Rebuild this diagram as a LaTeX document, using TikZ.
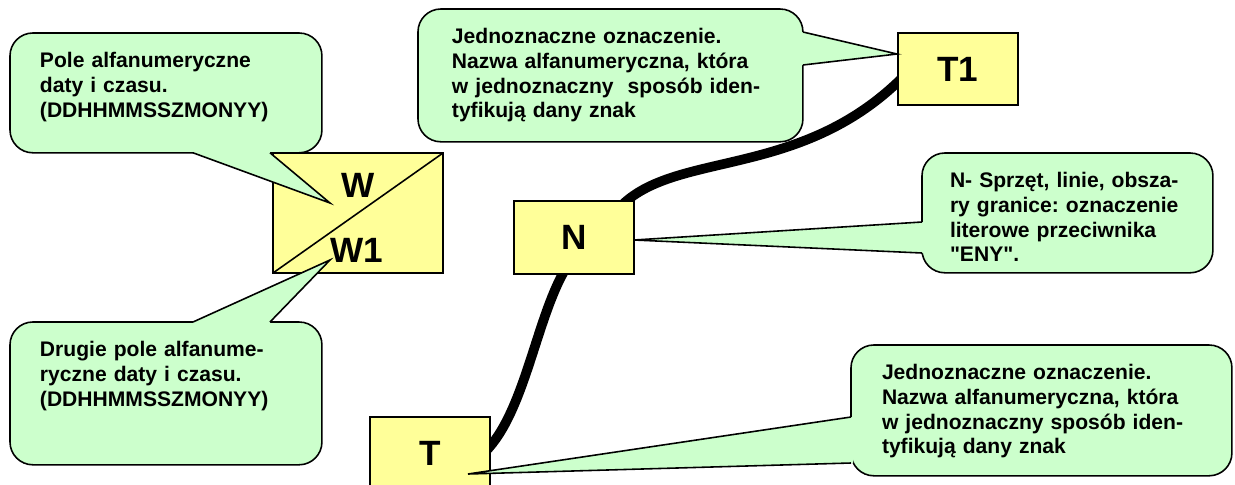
\documentclass[tikz,border=0pt]{standalone}
\usepackage{fontspec}
\setmainfont{Liberation Sans}
\pgfdeclarelayer{background}
\pgfsetlayers{background,main}
\definecolor{bubblegreen}{RGB}{204,255,204}
\definecolor{signyellow}{RGB}{255,255,153}
\tikzset{
  bubble/.style={draw,fill=bubblegreen,line width=0.9pt,rounded corners=13pt,anchor=north west,
    align=left,inner ysep=0.38cm,text height=9pt,outer sep=0pt,
    font=\bfseries\fontsize{12}{14}\selectfont\frenchspacing},
  wedge/.style={fill=bubblegreen},
  wedgeline/.style={line width=0.9pt},
  sign/.style={draw,fill=signyellow,line width=0.9pt,minimum width=2.4cm,minimum height=1.46cm,
    inner sep=0pt,outer sep=0pt,font=\bfseries\fontsize{20}{24}\selectfont},
  signlabel/.style={inner sep=0pt,font=\bfseries\fontsize{20}{24}\selectfont},
  track/.style={line width=5.5pt}
}
\begin{document}
\begin{tikzpicture}[x=0.02cm,y=-0.02cm]
    \useasboundingbox (0,0) rectangle (1235,484);
    % signs
    \node[sign,minimum width=3.4cm,minimum height=2.4cm] (W) at (358,213) {};
    \draw[line width=0.9pt] (W.south west)--(W.north east);
    \node[signlabel] (Wup) at (358,185) {W};
    \node[signlabel] (Wdown) at (357,250) {W1};
    \node[sign] (N) at (574,237.5) {N};
    \node[sign,minimum height=1.44cm] (T1) at (958,69) {T1};
    \node[sign] (T) at (430,453.5) {T};
    % tracks
    \begin{pgfonlayer}{background}
    \draw[track] ([shift={(-14,6)}]N.north east) .. controls +(55,-57) and +(-103,103) .. ([shift={(5,8)}]T1.west);
    \draw[track] ([shift={(-8,-6)}]N.south) .. controls +(-30,50) and +(40,-40) .. ([shift={(-5,-1.5)}]T.east);
    \end{pgfonlayer}
    % bubbles
    \node[bubble,inner xsep=0.6cm,text width=5.04cm,text depth=1.32cm] (calW) at (10,33)
      {Pole alfanumeryczne\\daty i czasu.\\(DDHHMMSSZMONYY)};
    \node[bubble,inner xsep=0.6cm,text width=5.04cm,text depth=1.78cm] (calW1) at (10,322)
      {Drugie pole alfanume-\\ryczne daty i czasu.\\(DDHHMMSSZMONYY)};
    \node[bubble,inner xsep=0.68cm,text width=6.34cm,text depth=1.58cm] (calT1) at (418,9)
      {Jednoznaczne oznaczenie.\\Nazwa alfanumeryczna, która\\w jednoznaczny\ \ sposób iden-\\tyfikują dany znak};
    \node[bubble,inner xsep=0.56cm,text width=4.7cm,text depth=1.32cm] (calN) at (922,153)
      {N- Sprzęt, linie, obsza-\\ry granice: oznaczenie\\literowe przeciwnika\\\textquotedbl ENY\textquotedbl.};
    \node[bubble,inner xsep=0.62cm,text width=6.38cm,text depth=1.54cm] (calT) at (851,345)
      {Jednoznaczne oznaczenie.\\Nazwa alfanumeryczna, która\\w jednoznaczny sposób iden-\\tyfikują dany znak};
    % pointers
    \coordinate (tipW) at ([shift={(57,50)}]W.north west);
    \coordinate (tipW1) at ([shift={(57,-13)}]W.south west);
    \coordinate (tipT1) at ([shift={(-1,21)}]T1.north west);
    \coordinate (tipN) at ([shift={(0,2.5)}]N.east);
    \coordinate (tipT) at ([shift={(38,20.5)}]T.center);
    \fill[wedge] ([shift={(183,-2)}]calW.south west)--([shift={(183,0)}]calW.south west)--(tipW)
      --([shift={(260,0)}]calW.south west)--([shift={(260,-2)}]calW.south west)--cycle;
    \draw[wedgeline] ([shift={(183,0)}]calW.south west)--(tipW)--([shift={(260,0)}]calW.south west);
    \fill[wedge] ([shift={(183,2)}]calW1.north west)--([shift={(183,0)}]calW1.north west)--(tipW1)
      --([shift={(260,0)}]calW1.north west)--([shift={(260,2)}]calW1.north west)--cycle;
    \draw[wedgeline] ([shift={(183,0)}]calW1.north west)--(tipW1)--([shift={(260,0)}]calW1.north west);
    \fill[wedge] ([shift={(-2,23)}]calT1.north east)--([shift={(0,23)}]calT1.north east)--(tipT1)
      --([shift={(0,56)}]calT1.north east)--([shift={(-2,56)}]calT1.north east)--cycle;
    \draw[wedgeline] ([shift={(0,23)}]calT1.north east)--(tipT1)--([shift={(0,56)}]calT1.north east);
    \fill[wedge] ([shift={(2,69)}]calN.north west)--([shift={(0,69)}]calN.north west)--(tipN)
      --([shift={(0,100)}]calN.north west)--([shift={(2,100)}]calN.north west)--cycle;
    \draw[wedgeline] ([shift={(0,69)}]calN.north west)--(tipN)--([shift={(0,100)}]calN.north west);
    \fill[wedge] ([shift={(2,72)}]calT.north west)--([shift={(0,72)}]calT.north west)--(tipT)
      --([shift={(0,118)}]calT.north west)--([shift={(2,118)}]calT.north west)--cycle;
    \draw[wedgeline] ([shift={(0,72)}]calT.north west)--(tipT)--([shift={(0,118)}]calT.north west);
\end{tikzpicture}
\end{document}
